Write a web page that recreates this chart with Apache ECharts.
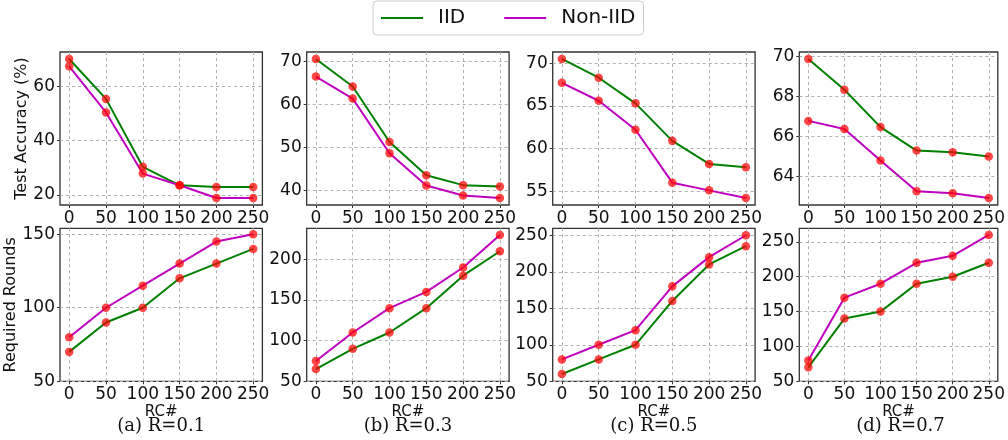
<!DOCTYPE html>
<html>
<head>
<meta charset="utf-8">
<script src="https://cdn.jsdelivr.net/npm/echarts@6/dist/echarts.min.js"></script>
<style>
  html, body { margin: 0; padding: 0; background: #fff; }
  #chart { width: 1008px; height: 440px; }
</style>
</head>
<body>
<div id="chart"></div>
<script>
// Removed-client counts (x axis of every panel)
const rcValues = [0, 50, 100, 150, 200, 250];
const rcTicks = [0, 50, 100, 150, 200, 250];

// Test accuracy (%) for each ratio R
const accIID_R01    = [70.0, 55.3, 30.3, 23.5, 22.9, 22.9];
const accNonIID_R01 = [67.3, 50.3, 27.8, 23.5, 18.8, 18.8];
const accIID_R03    = [70.6, 64.2, 51.3, 43.6, 41.3, 41.0];
const accNonIID_R03 = [66.5, 61.4, 48.7, 41.2, 38.9, 38.3];
const accIID_R05    = [70.5, 68.3, 65.3, 60.9, 58.2, 57.8];
const accNonIID_R05 = [67.7, 65.6, 62.2, 56.0, 55.1, 54.2];
const accIID_R07    = [69.87, 68.33, 66.47, 65.3, 65.22, 65.0];
const accNonIID_R07 = [66.78, 66.38, 64.8, 63.27, 63.17, 62.93];

// Rounds required to reach the target accuracy
const roundsIID_R01    = [70, 90, 100, 120, 130, 140];
const roundsNonIID_R01 = [80, 100, 115, 130, 145, 150];
const roundsIID_R03    = [65, 90, 110, 140, 180, 210];
const roundsNonIID_R03 = [75, 110, 140, 160, 190, 230];
const roundsIID_R05    = [60, 80, 100, 160, 210, 235];
const roundsNonIID_R05 = [80, 100, 120, 180, 220, 250];
const roundsIID_R07    = [70, 140, 150, 190, 200, 220];
const roundsNonIID_R07 = [80, 170, 190, 220, 230, 260];

// Tick labels
const accTicks = [[20, 40, 60], [40, 50, 60, 70], [55, 60, 65, 70], [64, 66, 68, 70]];
const roundsTicks = [[50, 100, 150], [50, 100, 150, 200], [50, 100, 150, 200, 250], [50, 100, 150, 200, 250]];

const captions = ['(a) R=0.1', '(b) R=0.3', '(c) R=0.5', '(d) R=0.7'];
const seriesNames = ['IID', 'Non-IID'];

const accData = [
  [accIID_R01, accNonIID_R01], [accIID_R03, accNonIID_R03],
  [accIID_R05, accNonIID_R05], [accIID_R07, accNonIID_R07]
];
const roundsData = [
  [roundsIID_R01, roundsNonIID_R01], [roundsIID_R03, roundsNonIID_R03],
  [roundsIID_R05, roundsNonIID_R05], [roundsIID_R07, roundsNonIID_R07]
];

// Layout
const colLeft = [60, 306.7, 552.7, 799.3];
const panelW = 202.4;
const rowTop = [52, 228.3];
const panelH = 153;
const lineColors = ['#008000', '#bf00bf'];
const markerColor = 'rgba(255, 0, 0, 0.72)';
const tickFont = 'DejaVu Sans';

function autoRange(arrs, fixedMin) {
  const all = [].concat(...arrs);
  const lo = Math.min(...all), hi = Math.max(...all);
  const pad = (hi - lo) * 0.05;
  return [fixedMin !== undefined ? fixedMin : lo - pad, hi + pad];
}

const grids = [], xAxes = [], yAxes = [], series = [], graphics = [];

for (let row = 0; row < 2; row++) {
  for (let col = 0; col < 4; col++) {
    const idx = row * 4 + col;
    grids.push({
      left: colLeft[col], top: rowTop[row], width: panelW, height: panelH,
      show: true, borderColor: '#333', borderWidth: 1.3, backgroundColor: 'transparent'
    });
    xAxes.push({
      gridIndex: idx, type: 'value', min: -12.5, max: 262.5,
      axisLine: { show: false, onZero: false },
      axisTick: { show: true, customValues: rcTicks, length: 3, lineStyle: { color: '#333', width: 1 } },
      axisLabel: { customValues: rcTicks, fontSize: 17, color: '#111', fontFamily: tickFont, margin: 5 },
      splitLine: { show: true, lineStyle: { color: '#b0b0b0', width: 1, type: [3, 3] } },
      name: row === 1 ? 'RC#' : '', nameLocation: 'middle', nameGap: 19,
      nameTextStyle: { fontSize: 15, color: '#111', fontFamily: tickFont }
    });
    const data = row === 0 ? accData[col] : roundsData[col];
    const range = row === 0 ? autoRange(data) : autoRange(data, 50);
    const yTicks = row === 0 ? accTicks[col] : roundsTicks[col];
    let yName = '';
    if (col === 0) yName = row === 0 ? 'Test Accuracy (%)' : 'Required Rounds';
    yAxes.push({
      gridIndex: idx, type: 'value', min: range[0], max: range[1],
      axisLine: { show: false, onZero: false },
      axisTick: { show: true, customValues: yTicks, length: 3, lineStyle: { color: '#333', width: 1 } },
      axisLabel: { customValues: yTicks, fontSize: 17, color: '#111', fontFamily: tickFont, margin: 5 },
      splitLine: { show: true, lineStyle: { color: '#b0b0b0', width: 1, type: [3, 3] } },
      name: yName, nameLocation: 'middle', nameRotate: 90,
      nameGap: row === 0 ? 19 : 29,
      nameTextStyle: { fontSize: 16, color: '#111', fontFamily: tickFont }
    });
    for (let s = 0; s < 2; s++) {
      series.push({
        name: seriesNames[s], type: 'line',
        xAxisIndex: idx, yAxisIndex: idx,
        data: rcValues.map((x, i) => [x, data[s][i]]),
        lineStyle: { color: lineColors[s], width: 2 },
        itemStyle: { color: markerColor },
        symbol: 'circle', symbolSize: 8.5, showSymbol: true,
        emphasis: { disabled: true }
      });
    }
  }
}

for (let col = 0; col < 4; col++) {
  graphics.push({
    type: 'text',
    style: {
      text: captions[col], x: colLeft[col] + panelW / 2, y: 426,
      align: 'center', verticalAlign: 'middle',
      fontSize: 18, fontFamily: 'DejaVu Serif', fill: '#111'
    }
  });
}

const chart = echarts.init(document.getElementById('chart'), null, { renderer: 'canvas' });
chart.setOption({
  animation: false,
  backgroundColor: '#fff',
  legend: {
    left: 373, top: 1,
    icon: 'rect', itemWidth: 42, itemHeight: 2, itemGap: 39,
    padding: [7, 8, 7, 8],
    borderColor: '#cccccc', borderWidth: 1, borderRadius: 4,
    textStyle: { fontSize: 20, color: '#111', fontFamily: tickFont, padding: [0, 0, 0, 10] },
    data: [
      { name: 'IID', itemStyle: { color: lineColors[0] } },
      { name: 'Non-IID', itemStyle: { color: lineColors[1] } }
    ]
  },
  grid: grids,
  xAxis: xAxes,
  yAxis: yAxes,
  series: series,
  graphic: graphics
});
</script>
</body>
</html>
